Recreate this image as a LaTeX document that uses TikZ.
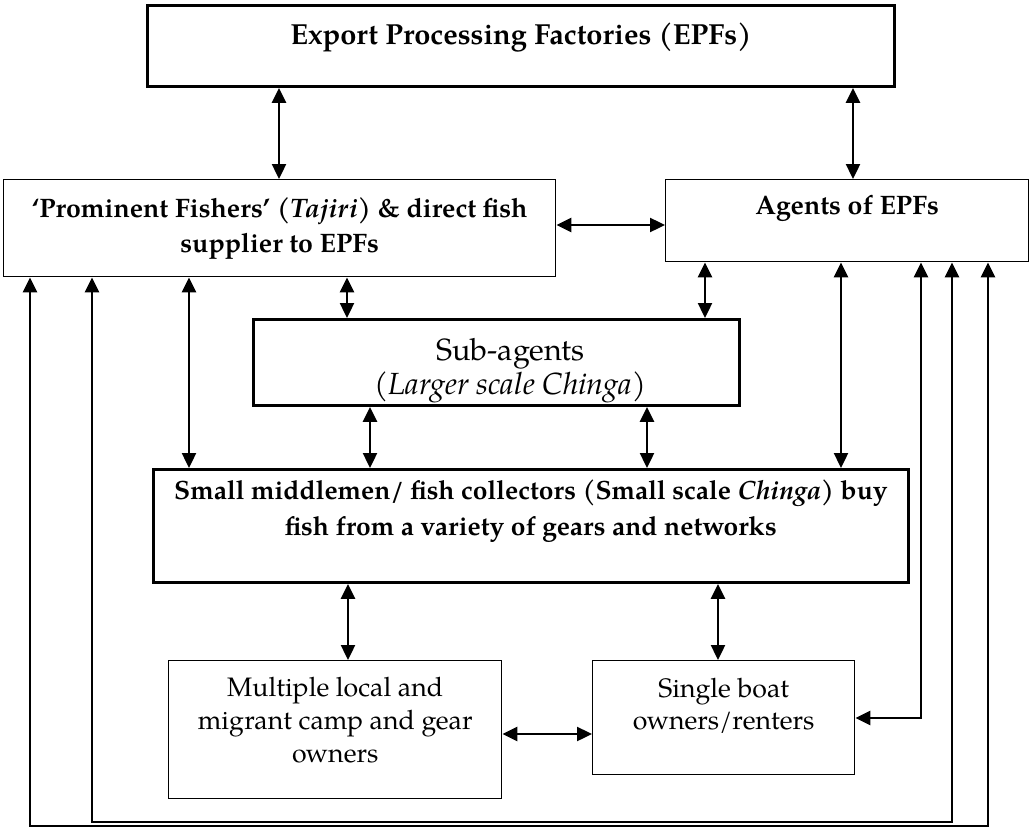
\documentclass[tikz,border=0pt]{standalone}
\usepackage{fontspec}
\setmainfont{TeX Gyre Pagella}
\usetikzlibrary{arrows.meta}
\tikzset{
  box/.style={draw, inner sep=0pt, align=center, anchor=north west},
  fs/.style 2 args={font=\fontsize{#1}{#2}\selectfont},
  thinbox/.style={box, line width=1.4pt},
  heavybox/.style={box, line width=2.9pt},
  conn/.style={line width=2.4pt,
    {Triangle[length=15pt,width=14pt]}-{Triangle[length=15pt,width=14pt]}},
}
\begin{document}
\begin{tikzpicture}[x=1pt,y=-1pt]
\useasboundingbox (0,0) rectangle (1031,827);
% boxes
\node[heavybox, fs={29}{35}, minimum width=747pt, text height=39pt, text depth=42pt] (epf) at (146,4)
  {\bfseries Export Processing Factories (EPFs)};
\node[thinbox, fs={26.7}{35}, minimum width=552pt, text height=73pt, text depth=24pt] (prom) at (3,179)
  {\bfseries ‘Prominent Fishers’ (\textit{Tajiri}) \& direct fish\\ \bfseries supplier to EPFs};
\node[thinbox, fs={26.7}{35}, minimum width=363pt, text height=35pt, text depth=47pt] (agents) at (665,179)
  {\bfseries Agents of EPFs};
\node[heavybox, fs={30.6}{34}, minimum width=486pt, text height=75pt, text depth=11pt] (sub) at (252,318)
  {\hspace*{28pt}Sub-agents\\ \hspace*{28pt}\textit{(Larger scale Chinga)}};
\node[heavybox, fs={26.4}{36}, minimum width=755pt, text height=66pt, text depth=47pt] (mid) at (152,468)
  {\bfseries Small middlemen/ fish collectors (Small scale \textit{Chinga)} buy\\
   \bfseries fish from a variety of gears and networks};
\node[thinbox, fs={26.7}{33}, minimum width=333pt, text height=102pt, text depth=36pt] (multi) at (168,660)
  {Multiple local and\\ migrant camp and gear\\ owners};
\node[thinbox, fs={26.7}{32}, minimum width=262pt, text height=69pt, text depth=45pt] (single) at (592,660)
  {Single boat\\ owners/renters};
% connectors
\draw[conn] (279,0 |- epf.south) -- (279,0 |- prom.north);
\draw[conn] (853,0 |- epf.south) -- (853,0 |- agents.north);
\draw[conn] (prom.east |- 0,225) -- (agents.west |- 0,225);
\draw[conn] (347,0 |- prom.south) -- (347,0 |- sub.north);
\draw[conn] (705,0 |- agents.south) -- (705,0 |- sub.north);
\draw[conn] (189,0 |- prom.south) -- (189,0 |- mid.north);
\draw[conn] (841,0 |- agents.south) -- (841,0 |- mid.north);
\draw[conn] (370,0 |- sub.south) -- (370,0 |- mid.north);
\draw[conn] (647,0 |- sub.south) -- (647,0 |- mid.north);
\draw[conn] (348,0 |- mid.south) -- (348,0 |- multi.north);
\draw[conn] (718,0 |- mid.south) -- (718,0 |- single.north);
\draw[conn] (multi.east |- 0,734) -- (single.west |- 0,734);
\draw[conn] (921,0 |- agents.south) |- (single.east |- 0,718);
\draw[conn] (92,0 |- prom.south) -- (92,822) -| (952,0 |- agents.south);
\draw[conn] (30,0 |- prom.south) -- (30,826) -| (988,0 |- agents.south);
\end{tikzpicture}
\end{document}
